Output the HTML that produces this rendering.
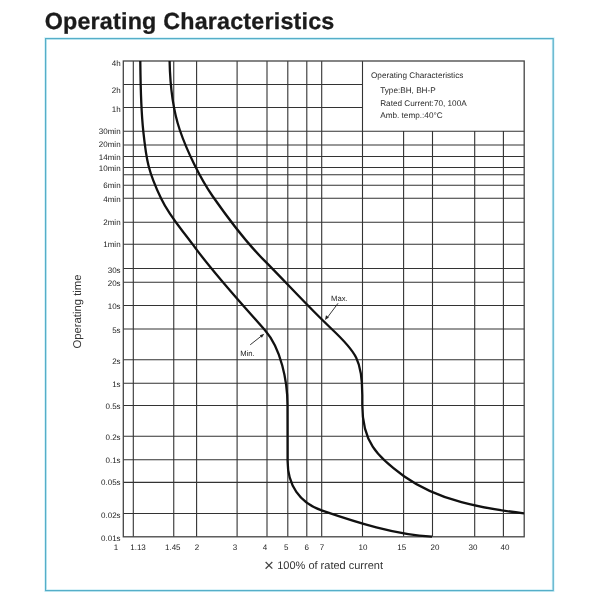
<!DOCTYPE html>
<html><head><meta charset="utf-8"><title>Operating Characteristics</title>
<style>
html,body{margin:0;padding:0;background:#fff;}
body{width:600px;height:600px;overflow:hidden;position:relative;}
svg{position:absolute;left:0;top:0;will-change:transform;}
text{font-family:"Liberation Sans",Arial,Helvetica,sans-serif;text-rendering:geometricPrecision;}
</style></head><body>
<svg width="600" height="600" viewBox="0 0 600 600">
<text x="44.7" y="29.2" font-size="23.3" letter-spacing="0.2" font-weight="bold" fill="#1b1b1b" stroke="#1b1b1b" stroke-width="0.3">Operating Characteristics</text>
<rect x="45.6" y="38.6" width="507.6" height="552" fill="none" stroke="#d3f1f8" stroke-width="2.8"/>
<rect x="45.6" y="38.6" width="507.6" height="552" fill="none" stroke="#55aec8" stroke-width="1.2"/>
<path d="M123.30 84.50H362.50 M123.30 107.50H362.50 M123.30 131.20H524.20 M123.30 145.00H524.20 M123.30 156.50H524.20 M123.30 167.50H524.20 M123.30 174.80H524.20 M123.30 185.20H524.20 M123.30 198.30H524.20 M123.30 222.20H524.20 M123.30 244.30H524.20 M123.30 268.50H524.20 M123.30 282.20H524.20 M123.30 305.50H524.20 M123.30 329.00H524.20 M123.30 359.80H524.20 M123.30 383.20H524.20 M123.30 405.50H524.20 M123.30 436.20H524.20 M123.30 459.80H524.20 M123.30 482.40H524.20 M123.30 513.50H524.20 M133.30 61.00V536.80 M173.75 61.00V536.80 M196.60 61.00V536.80 M237.10 61.00V536.80 M267.00 61.00V536.80 M287.80 61.00V536.80 M306.80 61.00V536.80 M321.70 61.00V536.80 M362.50 61.00V536.80 M403.60 131.20V536.80 M432.50 131.20V536.80 M474.70 131.20V536.80 M503.40 131.20V536.80" stroke="#333" stroke-width="1.10" fill="none"/>
<rect x="123.30" y="61.00" width="400.90" height="475.80" fill="none" stroke="#444" stroke-width="1.3"/>
<g font-size="8" fill="#222" text-anchor="end">
<text x="120.6" y="66.40">4h</text>
<text x="120.6" y="92.90">2h</text>
<text x="120.6" y="112.40">1h</text>
<text x="120.6" y="133.90">30min</text>
<text x="120.6" y="147.10">20min</text>
<text x="120.6" y="159.60">14min</text>
<text x="120.6" y="171.10">10min</text>
<text x="120.6" y="188.40">6min</text>
<text x="120.6" y="202.20">4min</text>
<text x="120.6" y="225.30">2min</text>
<text x="120.6" y="247.40">1min</text>
<text x="120.6" y="272.70">30s</text>
<text x="120.6" y="286.20">20s</text>
<text x="120.6" y="309.20">10s</text>
<text x="120.6" y="333.40">5s</text>
<text x="120.6" y="363.90">2s</text>
<text x="120.6" y="387.40">1s</text>
<text x="120.6" y="409.40">0.5s</text>
<text x="120.6" y="440.20">0.2s</text>
<text x="120.6" y="463.40">0.1s</text>
<text x="120.6" y="485.40">0.05s</text>
<text x="120.6" y="517.90">0.02s</text>
<text x="120.6" y="540.90">0.01s</text>
</g>
<g font-size="8" fill="#222" text-anchor="middle">
<text x="116.00" y="549.8">1</text>
<text x="138.00" y="549.8">1.13</text>
<text x="172.80" y="549.8">1.45</text>
<text x="197.00" y="549.8">2</text>
<text x="235.00" y="549.8">3</text>
<text x="265.00" y="549.8">4</text>
<text x="286.30" y="549.8">5</text>
<text x="306.80" y="549.8">6</text>
<text x="322.00" y="549.8">7</text>
<text x="363.00" y="549.8">10</text>
<text x="401.70" y="549.8">15</text>
<text x="435.00" y="549.8">20</text>
<text x="473.00" y="549.8">30</text>
<text x="505.00" y="549.8">40</text>
</g>
<path d="M140.30 61.00 C140.55 85.58 140.67 106.58 143.30 131.30 C146.40 160.46 148.28 171.60 161.00 198.30 C170.05 217.30 181.40 228.77 192.70 244.40 C214.00 273.85 240.97 302.89 265.00 330.30 C281.02 348.58 287.50 380.83 287.50 405.00 C287.50 423.66 287.60 442.33 287.60 461.00 C287.60 484.97 299.34 502.80 322.30 510.70 C356.74 522.55 395.23 534.87 432.00 536.70" stroke="#111" stroke-width="2.3" fill="none" stroke-linecap="butt"/>
<path d="M169.60 61.00 C170.08 84.99 172.05 107.19 179.80 130.00 C186.83 150.68 200.01 178.10 212.50 196.00 C226.97 216.74 246.80 242.99 264.20 260.40 C286.93 283.14 307.61 306.33 331.70 329.00 C356.26 352.10 362.30 360.54 362.30 395.00 L362.30 405.00 C362.30 441.17 376.20 456.37 404.00 476.20 C438.58 500.87 482.50 508.52 524.00 513.30" stroke="#111" stroke-width="2.3" fill="none" stroke-linecap="butt"/>
<g font-size="8.2" fill="#2a2a2a">
<text x="371" y="78.3">Operating Characteristics</text>
<text x="380.2" y="93.4">Type:BH, BH-P</text>
<text x="380.2" y="105.8">Rated Current:70, 100A</text>
<text x="380.2" y="117.9">Amb. temp.:40°C</text>
</g>
<g font-size="7.7" fill="#222">
<text x="240.2" y="355.7">Min.</text>
<text x="331" y="300.9">Max.</text>
</g>
<path d="M250.2 344.8L262 335.5" stroke="#222" stroke-width="0.9" fill="none"/>
<path d="M264.3 333.7L259.8 335.2L261.9 337.8Z" fill="#222"/>
<path d="M338 303.3L327 318" stroke="#222" stroke-width="0.9" fill="none"/>
<path d="M325 320L326 315.3L328.9 317.5Z" fill="#222"/>
<text x="263.9" y="571.3" font-size="17" fill="#444">×</text>
<text x="277.2" y="568.5" font-size="11" fill="#333">100% of rated current</text>
<text transform="translate(80.6 348.6) rotate(-90)" font-size="11.3" fill="#333">Operating time</text>
</svg>
</body></html>
